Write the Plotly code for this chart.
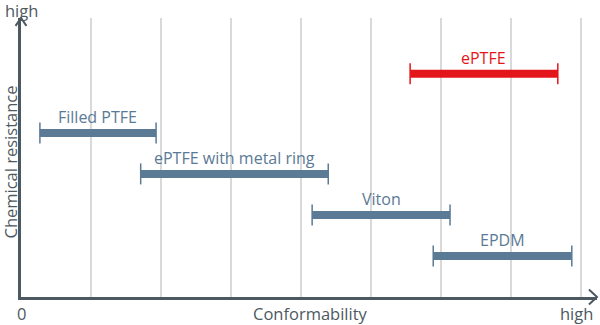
import plotly.graph_objects as go

materials = ["Filled PTFE", "ePTFE with metal ring", "Viton", "EPDM", "ePTFE"]
conf_low = [0.27, 1.71, 4.16, 5.89, 5.56]
conf_high = [1.93, 4.39, 6.13, 7.87, 7.67]
chem_res = [4.0, 3.0, 2.0, 1.0, 5.44]
colors = ["#5a7a95", "#5a7a95", "#5a7a95", "#5a7a95", "#e3161c"]

X_MAX = 8.23
Y_MAX = 6.8
AXIS_COL = "#4d5961"
FONT = "Open Sans"

fig = go.Figure()
for name, lo, hi, y, c in zip(materials, conf_low, conf_high, chem_res, colors):
    fig.add_trace(go.Scatter(x=[lo, hi], y=[y, y], mode="lines",
                             line=dict(color=c, width=8), hoverinfo="skip",
                             showlegend=False))
    fig.add_trace(go.Scatter(x=[lo, hi], y=[y, y], mode="markers",
                             marker=dict(symbol="line-ns", size=15,
                                         line=dict(color=c, width=1.5)),
                             hoverinfo="skip", showlegend=False))
    fig.add_annotation(x=(lo + hi) / 2, y=y, text=name, showarrow=False,
                       yshift=16, font=dict(family=FONT, size=16, color=c))

# axis arrows (chevrons)
fig.add_shape(type="path", xref="paper", yref="paper",
              path="M -0.0095 0.972 L 0 1 L 0.0095 0.972",
              line=dict(color=AXIS_COL, width=2))
fig.add_shape(type="path", xref="paper", yref="paper",
              path="M 0.986 0.027 L 1.0 0 L 0.986 -0.027",
              line=dict(color=AXIS_COL, width=2))

fig.add_annotation(x=0, y=1, xref="paper", yref="paper", text="high",
                   showarrow=False, xanchor="center", yanchor="bottom", yshift=-6,
                   font=dict(family=FONT, size=16.5, color=AXIS_COL))
fig.add_annotation(x=1, y=0, xref="paper", yref="paper", text="high",
                   showarrow=False, xanchor="right", yanchor="top", xshift=-2, yshift=-3,
                   font=dict(family=FONT, size=16.5, color=AXIS_COL))
fig.add_annotation(x=0, y=0, xref="paper", yref="paper", text="0",
                   showarrow=False, xanchor="center", yanchor="top", yshift=-3,
                   font=dict(family=FONT, size=16.5, color=AXIS_COL))
fig.add_annotation(x=0.503, y=0, xref="paper", yref="paper", text="Conformability",
                   showarrow=False, xanchor="center", yanchor="top", yshift=-3,
                   font=dict(family=FONT, size=16.5, color=AXIS_COL))
fig.add_annotation(x=0, y=0.5, xref="paper", yref="paper", text="Chemical resistance",
                   showarrow=False, textangle=-90, xanchor="center", yanchor="middle",
                   xshift=-11, yshift=-5,
                   font=dict(family=FONT, size=16.5, color=AXIS_COL))

fig.update_xaxes(range=[0, X_MAX], tickvals=list(range(0, 9)), showticklabels=False,
                 showgrid=True, gridcolor="#d9d9d9", gridwidth=1.5,
                 showline=True, linecolor=AXIS_COL, linewidth=3, zeroline=False,
                 fixedrange=True)
fig.update_yaxes(range=[0, Y_MAX], showticklabels=False, showgrid=False,
                 showline=True, linecolor=AXIS_COL, linewidth=3, zeroline=False,
                 fixedrange=True)

fig.update_layout(width=600, height=325, margin=dict(l=21, r=3, t=18, b=28),
                  plot_bgcolor="white", paper_bgcolor="white",
                  font=dict(family=FONT))

fig.write_html("out.html")
